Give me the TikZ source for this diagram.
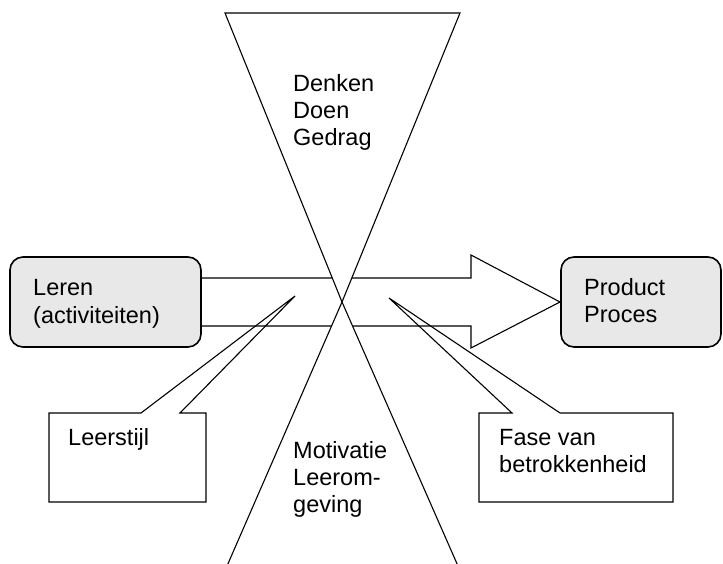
\documentclass[tikz,border=0pt]{standalone}
\usepackage{fontspec}
\setmainfont{Liberation Sans}
\begin{document}
\begin{tikzpicture}[x=1pt,y=-1pt,
  lbl/.style={anchor=base west,inner sep=0pt,font=\fontsize{23.5}{28}\selectfont},
  thin line/.style={line width=1.1pt,line join=miter},
  gbox/.style={draw,line width=1.6pt,fill=black!9,rounded corners=13pt},
  callout/.style={line width=1.1pt,line join=miter}]
\useasboundingbox (0,0) rectangle (723,564);
% block arrow
\draw[thin line,fill=white] (150,278) -- (471,278) -- (471,255) -- (560,302)
  -- (471,348) -- (471,326) -- (150,326) -- cycle;
% boxes
\path[gbox] (10,257) rectangle (201,347);
\path[gbox] (561,257) rectangle (721,347);
% hourglass
\draw[thin line,fill=white] (225,13) -- (460,13) -- (342,302) -- cycle;
\draw[thin line,fill=white] (227,566) -- (342,302) -- (458,566);
% callouts
\draw[callout] (49,413) -- (141,413) -- (295,296) -- (180,413) -- (206,413)
  -- (206,502) -- (49,502) -- cycle;
\draw[callout] (479,413) -- (512,413) -- (389,298) -- (560,413) -- (673,413)
  -- (673,502) -- (479,502) -- cycle;
% texts
\node[lbl] (l1) at (33,295) {Leren};
\node[lbl] (l2) at (33,323) {(activiteiten)};
\node[lbl] (p1) at (584,295) {Product};
\node[lbl] (p2) at (584,322) {Proces};
\node[lbl] (d1) at (293,92) {Denken};
\node[lbl] (d2) at (293,119) {Doen};
\node[lbl] (d3) at (293,146) {Gedrag};
\node[lbl] (m1) at (293,458) {Motivatie};
\node[lbl] (m2) at (293,485) {Leerom-};
\node[lbl] (m3) at (293,512) {geving};
\node[lbl] (ls) at (68,445) {Leerstijl};
\node[lbl] (f1) at (499,445) {Fase van};
\node[lbl] (f2) at (499,472) {betrokkenheid};
\end{tikzpicture}
\end{document}
